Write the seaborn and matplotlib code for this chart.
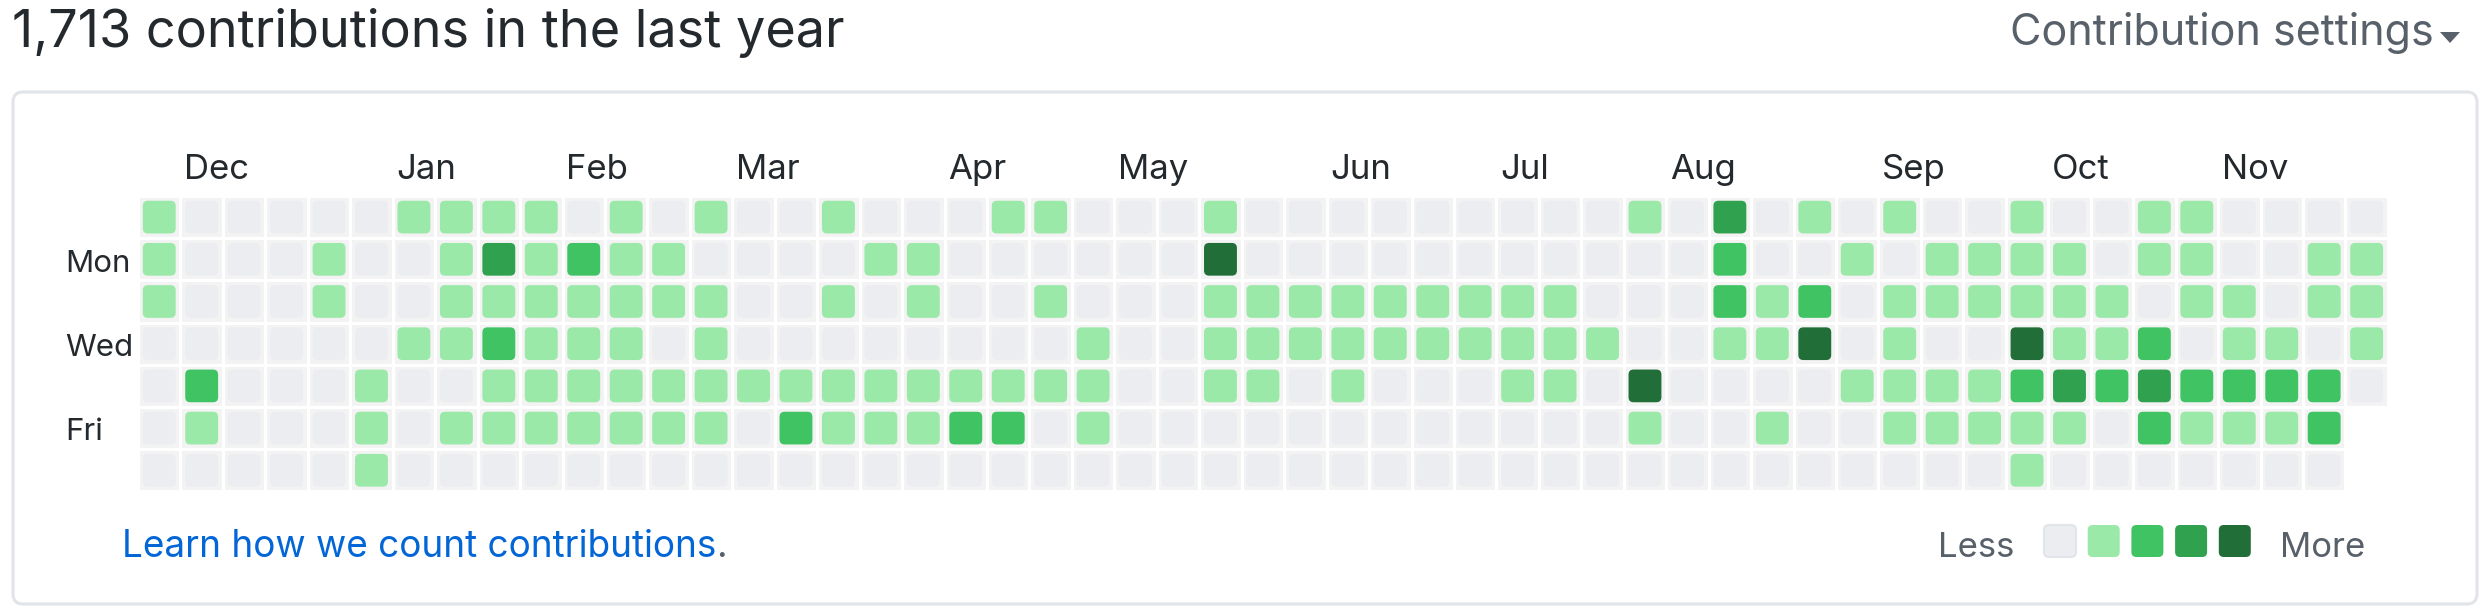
import matplotlib.pyplot as plt
import numpy as np
import seaborn as sns
from matplotlib.colors import ListedColormap
from matplotlib.patches import FancyBboxPatch, Polygon
from matplotlib.transforms import IdentityTransform

# contribution level per week (53 columns), one list per weekday, -1 = day not reached yet
sun = [1,0,0,0,0,0,1,1,1,1, 0,1,0,1,0,0,1,0,0,0, 1,1,0,0,0,1,0,0,0,0, 0,0,0,0,0,1,0,3,0,1, 0,1,0,0,1,0,0,1,1,0, 0,0,0]
mon = [1,0,0,0,1,0,0,1,3,1, 2,1,1,0,0,0,0,1,1,0, 0,0,0,0,0,4,0,0,0,0, 0,0,0,0,0,0,0,2,0,0, 1,0,1,1,1,1,0,1,1,0, 0,1,1]
tue = [1,0,0,0,1,0,0,1,1,1, 1,1,1,1,0,0,1,0,1,0, 0,1,0,0,0,1,1,1,1,1, 1,1,1,1,0,0,0,2,1,2, 0,1,1,1,1,1,1,0,1,1, 0,1,1]
wed = [0,0,0,0,0,0,1,1,2,1, 1,1,0,1,0,0,0,0,0,0, 0,0,1,0,0,1,1,1,1,1, 1,1,1,1,1,0,0,1,1,4, 0,1,0,0,4,1,1,2,0,1, 1,0,1]
thu = [0,2,0,0,0,1,0,0,1,1, 1,1,1,1,1,1,1,1,1,1, 1,1,1,0,0,1,1,0,1,0, 0,0,1,1,0,4,0,0,0,0, 1,1,1,1,2,3,2,3,2,2, 2,2,0]
fri = [0,1,0,0,0,1,0,1,1,1, 1,1,1,1,0,2,1,1,1,2, 2,0,1,0,0,0,0,0,0,0, 0,0,0,0,0,1,0,0,1,0, 0,1,1,1,1,1,0,2,1,1, 1,2,-1]
sat = [0,0,0,0,0,1,0,0,0,0, 0,0,0,0,0,0,0,0,0,0, 0,0,0,0,0,0,0,0,0,0, 0,0,0,0,0,0,0,0,0,0, 0,0,0,0,1,0,0,0,0,0, 0,0,-1]

months = ['Dec', 'Jan', 'Feb', 'Mar', 'Apr', 'May', 'Jun', 'Jul', 'Aug', 'Sep', 'Oct', 'Nov']
month_weeks = [1, 6, 10, 14, 19, 23, 28, 32, 36, 41, 45, 49]
day_labels = ['', 'Mon', '', 'Wed', '', 'Fri', '']

level_colors = ['#ebedf0', '#9be9a8', '#40c463', '#30a14e', '#216e39']
total = '1,713'

W, H = 2486, 612
FONT = ['Inter', 'DejaVu Sans']

sns.set_style('white')
plt.rcParams['font.family'] = FONT

grid = np.array([sun, mon, tue, wed, thu, fri, sat])
missing = grid < 0

fig = plt.figure(figsize=(W / 100, H / 100), dpi=100)

def disp(x, y):
    # image pixel (top-left origin) -> display coords
    return x, H - y

# outer card, behind the grid
x0, y0 = disp(13, 604)
fig.add_artist(FancyBboxPatch((x0, y0), 2477 - 13, 604 - 92,
                              boxstyle='round,pad=0,rounding_size=10',
                              fc='white', ec='#e1e4e8', lw=2.2, zorder=-5,
                              transform=IdentityTransform()))

# grid axes
px_w, px_h = 42.45, 42.2
gl, gt = 138, 196
ax = fig.add_axes([gl / W, 1 - (gt + 7 * px_h) / H, 53 * px_w / W, 7 * px_h / H])
sns.heatmap(np.zeros(grid.shape), mask=missing, cmap=ListedColormap(['#f3f3f3']),
            vmin=0, vmax=1, cbar=False, linewidths=1.9, linecolor='white',
            xticklabels=False, yticklabels=False, ax=ax)
ax.patch.set_alpha(0)

inner = 0.775
off = (1 - inner) / 2
for r in range(grid.shape[0]):
    for c in range(grid.shape[1]):
        lv = grid[r, c]
        if lv < 0:
            continue
        ax.add_patch(FancyBboxPatch((c + off, r + off), inner, inner,
                                    boxstyle='round,pad=0,rounding_size=0.12',
                                    fc=level_colors[lv], ec='none', zorder=3))

for m, wk in zip(months, month_weeks):
    ax.text(wk + 0.09, -0.40, m, fontsize=25, color='#24292e',
            ha='left', va='baseline', clip_on=False)
for r, d in enumerate(day_labels):
    if d:
        ax.text(-1.72, r + 0.79, d, fontsize=22.5, color='#24292e',
                ha='left', va='baseline', clip_on=False)

# header texts
fig.text(12 / W, 1 - 47 / H, f'{total} contributions in the last year',
         fontsize=37.6, color='#24292e', ha='left', va='baseline')
fig.text(2434 / W, 1 - 45 / H, 'Contribution settings',
         fontsize=31, color='#586069', ha='right', va='baseline')
fig.add_artist(Polygon([disp(2440, 32), disp(2460, 32), disp(2450, 43)],
                       closed=True, fc='#586069', ec='none',
                       transform=IdentityTransform()))

# footer
learn = fig.text(122 / W, 1 - 557 / H, 'Learn how we count contributions',
                 fontsize=26.6, color='#0366d6', ha='left', va='baseline')
fig.add_artist(plt.Annotation('.', xy=(1, 0), xycoords=learn, fontsize=26.6,
                              color='#586069', ha='left', va='bottom'))

fig.text(2014 / W, 1 - 557 / H, 'Less', fontsize=25, color='#586069',
         ha='right', va='baseline')
fig.text(2280 / W, 1 - 557 / H, 'More', fontsize=25, color='#586069',
         ha='left', va='baseline')
for i, col in enumerate(level_colors):
    lx, ly = disp(2044 + i * 43.7, 557)
    fig.add_artist(FancyBboxPatch((lx, ly), 32, 32,
                                  boxstyle='round,pad=0,rounding_size=5',
                                  fc=col, ec='#e1e4e8' if i == 0 else 'none',
                                  lw=1.5, transform=IdentityTransform()))

fig.savefig('out.png', dpi=100)
